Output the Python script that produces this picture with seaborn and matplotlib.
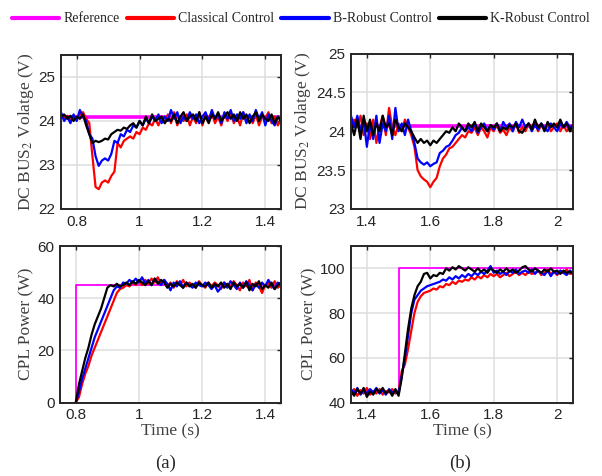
import numpy as np
import matplotlib
matplotlib.use("Agg")
import matplotlib.pyplot as plt
import seaborn as sns
from matplotlib.ticker import FuncFormatter, MultipleLocator
from matplotlib.lines import Line2D

# ---------------- data ----------------
labels = ["Reference", "Classical Control", "B-Robust Control", "K-Robust Control"]
colors = ["#ff00ff", "#ff0000", "#0000ff", "#000000"]

# panel (a) voltage
t_va = np.round(np.arange(0.75, 1.4501, 0.01), 2)
va_red = [24.15, 24.05, 24.12, 24.0, 24.1, 24.05, 24.15, 24.2, 24.05, 23.95,
          23.2, 22.5, 22.45, 22.6, 22.65, 22.6, 22.75, 22.85, 23.5, 23.4,
          23.55, 23.6, 23.65, 23.6, 23.75, 23.7, 23.85, 23.8, 23.95, 23.9,
          24.05, 23.9, 24.1, 23.95, 24.15, 23.95, 24.2, 23.9, 24.1, 24.0,
          24.15, 23.9, 24.1, 23.95, 24.2, 23.9, 24.15, 24.05, 24.2, 23.95,
          24.1, 23.9, 24.15, 24.0, 24.2, 23.95, 24.1, 23.9, 24.2, 24.0,
          24.1, 23.95, 24.15, 23.9, 24.1, 24.05, 24.2, 23.95, 24.1, 23.9, 24.05]
va_blue = [24.2, 24.0, 24.1, 23.95, 24.15, 24.0, 24.25, 24.1, 24.0, 23.7,
           23.6, 23.2, 22.98, 23.1, 23.15, 23.1, 23.25, 23.55, 23.5, 23.7,
           23.65, 23.8, 23.75, 23.9, 23.85, 24.0, 23.9, 24.05, 23.95, 24.1,
           24.0, 24.15, 23.95, 24.1, 24.0, 24.25, 24.05, 24.2, 23.95, 24.1,
           24.0, 24.2, 24.05, 24.15, 23.95, 24.1, 24.2, 24.0, 24.25, 24.05,
           24.15, 23.95, 24.2, 24.05, 24.25, 24.0, 24.15, 24.05, 24.2, 23.95,
           24.15, 24.0, 24.25, 24.05, 24.2, 23.9, 24.15, 24.0, 23.9, 24.1, 24.0]
va_black = [24.1, 24.15, 24.05, 24.12, 24.0, 24.1, 24.05, 24.15, 23.9, 23.7,
            23.5, 23.55, 23.52, 23.55, 23.6, 23.58, 23.7, 23.75, 23.8, 23.78,
            23.85, 23.82, 23.9, 23.95, 23.85, 24.0, 23.9, 24.1, 23.95, 24.15,
            24.0, 24.05, 24.1, 23.95, 24.05, 24.0, 24.15, 23.95, 24.1, 24.2,
            24.0, 24.1, 24.15, 24.0, 24.2, 23.95, 24.1, 23.95, 24.15, 24.05,
            24.2, 24.0, 24.1, 24.2, 24.05, 24.15, 24.0, 24.2, 24.05, 24.15,
            23.95, 24.1, 24.2, 24.0, 24.15, 24.05, 24.0, 24.15, 23.95, 24.1, 24.0]
va_ref_t = [0.75, 1.45]
va_ref = [24.08, 24.08]

# panel (b) voltage
t_vb = np.round(np.arange(1.35, 2.0501, 0.01), 2)
vb_red = [24.0, 24.15, 24.05, 24.2, 23.95, 24.1, 23.9, 24.15, 23.85, 24.05,
          24.2, 23.95, 24.3, 24.05, 23.95, 24.1, 24.0, 24.15, 24.05, 23.95,
          23.8, 23.5, 23.42, 23.38, 23.35, 23.28, 23.35, 23.4, 23.55, 23.65,
          23.7, 23.78, 23.8, 23.85, 23.9, 23.95, 23.92, 24.0, 23.98, 24.05,
          23.95, 24.05, 24.0, 23.92, 24.05, 24.0, 24.08, 23.98, 24.02, 23.95,
          24.05, 24.0, 24.1, 23.98, 24.05, 24.0, 24.1, 24.05, 24.12, 24.0,
          24.08, 24.02, 24.1, 24.0, 24.05, 24.1, 24.0, 24.08, 24.0, 24.05, 24.0]
vb_blue = [24.2, 24.05, 24.2, 24.0, 24.15, 23.8, 24.1, 23.9, 24.2, 23.85,
           24.1, 24.0, 24.2, 23.9, 24.3, 24.0, 24.1, 23.95, 24.15, 24.0,
           23.85, 23.65, 23.6, 23.57, 23.6, 23.55, 23.58, 23.6, 23.72, 23.75,
           23.8, 23.82, 23.88, 23.95, 23.98, 24.05, 24.0, 24.05, 24.0, 24.1,
           23.98, 24.05, 24.1, 24.0, 24.08, 24.02, 24.1, 24.0, 24.12, 24.05,
           24.1, 24.0, 24.12, 24.05, 24.15, 24.05, 24.1, 24.0, 24.08, 24.02,
           24.1, 24.05, 24.0, 24.1, 24.05, 24.0, 24.1, 24.05, 24.12, 24.05, 24.08]
vb_black = [24.1, 23.95, 24.15, 23.9, 24.2, 24.0, 24.15, 23.95, 24.1, 24.0,
            24.2, 24.05, 24.1, 23.95, 24.15, 24.05, 24.0, 24.1, 24.05, 24.0,
            23.92, 23.85, 23.9, 23.85, 23.88, 23.82, 23.88, 23.85, 23.9, 23.95,
            24.0, 23.98, 24.05, 24.0, 24.1, 24.05, 24.0, 24.1, 24.05, 24.12,
            24.0, 24.1, 24.05, 24.0, 24.08, 24.05, 24.1, 24.0, 24.05, 24.02,
            24.08, 24.05, 24.1, 24.0, 23.98, 24.05, 24.1, 24.02, 24.15, 24.05,
            24.1, 24.0, 24.12, 24.05, 24.1, 24.05, 24.15, 24.05, 24.1, 24.0, 24.08]
vb_ref_t = [1.35, 2.05]
vb_ref = [24.07, 24.07]

# panel (a) power
t_pa = np.round(np.arange(0.80, 1.4501, 0.01), 2)
pa_red = [0, 2, 7, 11, 14, 18, 21, 24, 27, 30,
          33, 36, 39, 42, 43.5, 44, 45, 44.5, 46, 45,
          46.5, 45, 47, 45.5, 47.5, 46, 48, 45.5, 47, 44.5,
          46, 44, 46.5, 45, 47, 44.5, 46, 45, 44, 46.5,
          45, 44, 46, 44.5, 46, 45, 43.5, 46, 45, 44,
          46.5, 45, 43, 46, 44.5, 47, 43, 46, 44.5, 42,
          45, 46, 44, 46.5, 44, 45]
pa_blue = [0, 4, 9, 13, 17, 21, 25, 28, 31, 34,
           37, 40, 43, 44.5, 44, 46, 45.5, 47, 46, 47.5,
           46, 48, 45.5, 47, 45, 47.5, 46, 45, 47, 45.5,
           43, 46, 44.5, 46.5, 44, 46, 45, 44, 46, 45,
           44.5, 46, 45, 43.5, 45, 42.5, 44, 46, 44, 46.5,
           45, 43.5, 46, 44, 46.5, 45, 43, 45.5, 44, 46,
           44.5, 47, 45, 43.5, 46, 45]
pa_black = [0, 7, 12, 17, 21, 26, 30, 33, 36, 40,
            44, 45, 44.5, 45.5, 44.5, 45, 46, 45, 46.5, 45.5,
            47, 46, 45, 46.5, 45, 47.5, 45.5, 47, 46, 44,
            45.5, 44.5, 46, 45, 44, 46, 44.5, 45.5, 44, 46,
            45, 44.5, 46, 44, 45.5, 44.5, 46, 44, 45.5, 43.5,
            46, 44.5, 45.5, 44, 46, 43, 45.5, 44.5, 46.5, 43.5,
            45, 44, 46, 43.5, 45, 46]
pa_ref_t = [0.75, 0.80, 0.80, 1.45]
pa_ref = [0, 0, 45, 45]

# panel (b) power
t_pb = np.round(np.arange(1.35, 2.0501, 0.01), 2)
pb_red = [44, 46, 43, 45.5, 44, 46.5, 43.5, 45, 44, 46,
          43.5, 45, 44.5, 46, 44, 45, 54, 57, 64, 72,
          80, 85, 87.5, 89, 89.5, 90, 91, 90.5, 92, 91.5,
          93, 92.5, 94, 93, 94.5, 94, 95, 94.5, 96, 95,
          96.5, 95.5, 97, 96, 97.5, 96.5, 97.5, 96, 97, 98,
          96.5, 97.5, 98.5, 97, 98, 97, 98.5, 97.5, 98, 99,
          97, 98, 99.5, 97.5, 98.5, 97, 99, 98, 99.5, 97.5, 98]
pb_blue = [46, 44, 46.5, 43.5, 45.5, 44, 46, 44.5, 46.5, 44,
           45.5, 43.5, 46, 44.5, 45, 44, 52, 60, 70, 80,
           86, 88, 90, 91, 92, 92.5, 93, 93.5, 94, 95,
           94.5, 96, 95, 96.5, 95.5, 97, 96, 97.5, 96.5, 98,
           97, 98.5, 97.5, 99, 101, 98, 99, 97.5, 98.5, 97,
           99, 98, 99.5, 97.5, 98.5, 99, 98, 99.5, 97.5, 99,
           98, 97, 99, 96.5, 98.5, 97.5, 99, 98, 97, 99, 98]
pb_black = [45, 43, 46, 44, 46.5, 42.5, 45, 43.5, 46, 44.5,
            46.5, 44, 45.5, 43, 46, 43, 51, 62, 73, 82,
            88, 92, 94, 97.5, 98, 95.5, 97, 96.5, 98, 97.5,
            100, 99, 100.5, 99.5, 101, 100, 99, 100.5, 99.5, 98.5,
            100, 98.5, 99.5, 98, 100, 99, 98, 99.5, 98.5, 100,
            98.5, 99.5, 98, 99, 100.5, 101, 99.5, 98.5, 100, 99,
            98, 99.5, 98.5, 100, 98.5, 99, 97.5, 99, 98, 98.5, 97.5]
pb_ref_t = [1.35, 1.50, 1.50, 2.05]
pb_ref = [45, 45, 100, 100]

# ---------------- style ----------------
sns.set_style("whitegrid")
plt.rcParams["font.family"] = ["Liberation Serif", "DejaVu Serif"]
plt.rcParams["mathtext.fontset"] = "stix"

fig = plt.figure(figsize=(6.02, 4.76), dpi=100)
fig.patch.set_facecolor("white")

W, H = 602.0, 476.0
def pos(x0, y0, x1, y1):
    return [x0 / W, 1 - y1 / H, (x1 - x0) / W, (y1 - y0) / H]

ax_va = fig.add_axes(pos(61, 55, 281, 209))
ax_vb = fig.add_axes(pos(351, 53.5, 573, 209))
ax_pa = fig.add_axes(pos(60, 246, 281, 402.5))
ax_pb = fig.add_axes(pos(351, 246, 573, 402.5))

def draw(ax, ref_t, ref, t, reds, blues, blacks, ref_lw):
    sns.lineplot(x=ref_t, y=ref, ax=ax, color=colors[0], lw=ref_lw,
                 estimator=None, sort=False, label=labels[0])
    sns.lineplot(x=t, y=reds, ax=ax, color=colors[1], lw=1.6,
                 estimator=None, sort=False, label=labels[1])
    sns.lineplot(x=t, y=blues, ax=ax, color=colors[2], lw=1.6,
                 estimator=None, sort=False, label=labels[2])
    sns.lineplot(x=t, y=blacks, ax=ax, color=colors[3], lw=1.6,
                 estimator=None, sort=False, label=labels[3])
    leg = ax.get_legend()
    if leg is not None:
        leg.remove()

draw(ax_va, va_ref_t, va_ref, t_va, va_red, va_blue, va_black, 2.6)
draw(ax_vb, vb_ref_t, vb_ref, t_vb, vb_red, vb_blue, vb_black, 2.6)
draw(ax_pa, pa_ref_t, pa_ref, t_pa, pa_red, pa_blue, pa_black, 1.3)
draw(ax_pb, pb_ref_t, pb_ref, t_pb, pb_red, pb_blue, pb_black, 1.3)

fmt = FuncFormatter(lambda v, p: f"{v:g}")
for ax in [ax_va, ax_vb, ax_pa, ax_pb]:
    ax.grid(True, color="#dedede", lw=1.1)
    ax.set_axisbelow(True)
    for s in ax.spines.values():
        s.set_color("#262626")
        s.set_linewidth(1.4)
        s.set_visible(True)
    ax.tick_params(direction="in", length=3, width=1, top=True, right=True,
                   colors="#262626", labelsize=11, pad=4)
    ax.xaxis.set_major_formatter(fmt)
    ax.yaxis.set_major_formatter(fmt)
    ax.xaxis.set_major_locator(MultipleLocator(0.2))

ax_va.set_xlim(0.75, 1.45); ax_va.set_ylim(22, 25.5)
ax_va.yaxis.set_major_locator(MultipleLocator(1))
ax_vb.set_xlim(1.35, 2.05); ax_vb.set_ylim(23, 25)
ax_vb.yaxis.set_major_locator(MultipleLocator(0.5))
ax_pa.set_xlim(0.75, 1.45); ax_pa.set_ylim(0, 60)
ax_pa.yaxis.set_major_locator(MultipleLocator(20))
ax_pb.set_xlim(1.35, 2.05); ax_pb.set_ylim(40, 110)
ax_pb.yaxis.set_major_locator(MultipleLocator(20))

for ax in [ax_va, ax_vb, ax_pa, ax_pb]:
    for lab in ax.get_xticklabels() + ax.get_yticklabels():
        lab.set_family(["Liberation Sans", "DejaVu Sans"])
        lab.set_color("#262626")

ylab_v = r"DC BUS$_{\mathrm{2}}$ Volatge (V)"
ax_va.set_ylabel(ylab_v, fontsize=12.5, color="#404040", labelpad=2)
ax_vb.set_ylabel(ylab_v, fontsize=12.5, color="#404040", labelpad=2)
ax_pa.set_ylabel("CPL Power (W)", fontsize=12.5, color="#404040", labelpad=2)
ax_pb.set_ylabel("CPL Power (W)", fontsize=12.5, color="#404040", labelpad=2)
ax_va.set_xlabel(""); ax_vb.set_xlabel("")
ax_pa.set_xlabel("Time (s)", fontsize=12.5, color="#404040", labelpad=1)
ax_pb.set_xlabel("Time (s)", fontsize=12.5, color="#404040", labelpad=1)

fig.text(166 / W, 1 - 463 / H, "(a)", ha="center", va="center", fontsize=13.5)
fig.text(460 / W, 1 - 463 / H, "(b)", ha="center", va="center", fontsize=13.5)

hs = [Line2D([0], [0], color=c, lw=3) for c in colors]
fig.legend(hs, labels, loc="center", bbox_to_anchor=(0.5, 1 - 19 / H), ncol=4,
           frameon=False, fontsize=10, handlelength=3.4, handletextpad=0.3,
           columnspacing=0.5, borderaxespad=0, borderpad=0)

fig.savefig("out.png", dpi=100, facecolor="white")
